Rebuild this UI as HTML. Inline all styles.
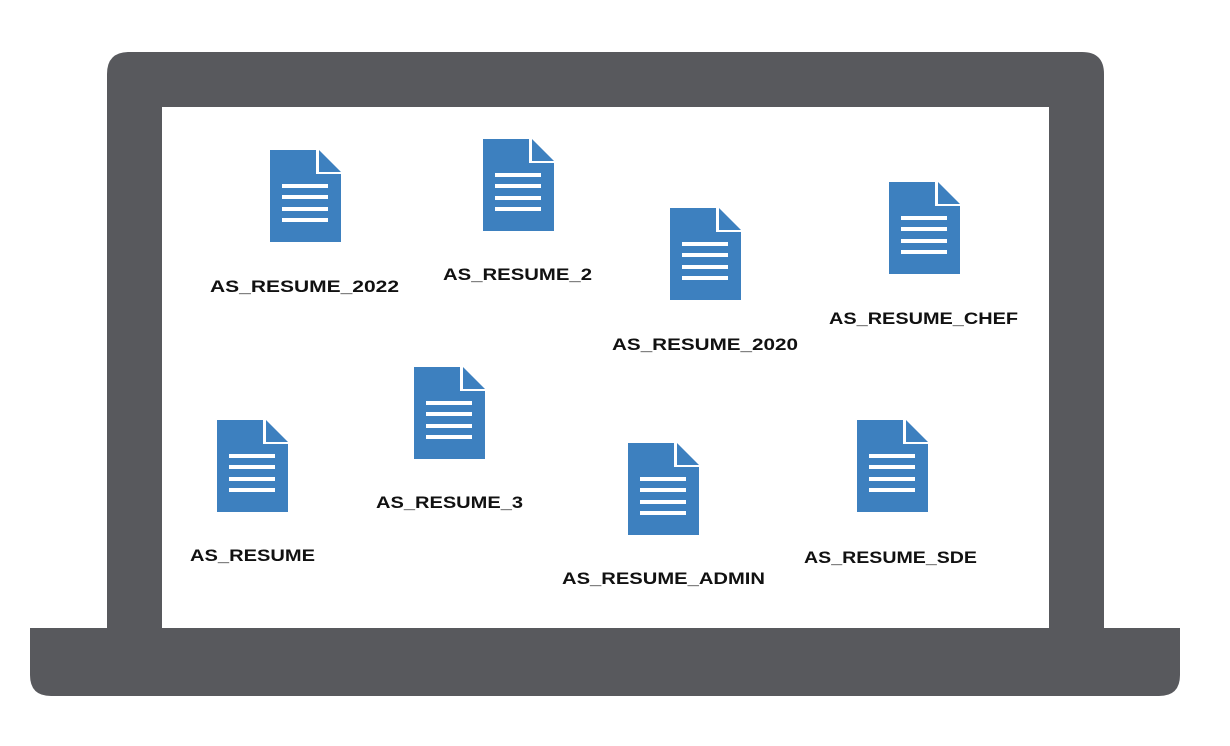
<!DOCTYPE html>
<html><head><meta charset="utf-8"><style>
html,body{margin:0;padding:0;background:#fff;width:1230px;height:746px;overflow:hidden}
svg{display:block}
text{font-family:"Liberation Sans",sans-serif;font-weight:bold;font-size:17px;fill:#111}
</style></head><body>
<svg width="1230" height="746" viewBox="0 0 1230 746">
<defs>
<g id="doc">
<path d="M0 0H46V24H71V92H0Z" fill="#3d80bf"/>
<path d="M49 0L71 22H49Z" fill="#3d80bf"/>
<rect x="12" y="34" width="46" height="4" fill="#fff"/>
<rect x="12" y="45" width="46" height="4" fill="#fff"/>
<rect x="12" y="57" width="46" height="4" fill="#fff"/>
<rect x="12" y="68" width="46" height="4" fill="#fff"/>
</g>
</defs>
<path d="M107 628V74Q107 52 129 52H1082Q1104 52 1104 74V628Z" fill="#58595d"/>
<path d="M30 628H1180V675Q1180 696 1159 696H51Q30 696 30 675Z" fill="#58595d"/>
<rect x="162" y="107" width="887" height="521" fill="#fff"/>
<use href="#doc" x="270" y="150"/>
<use href="#doc" x="483" y="139"/>
<use href="#doc" x="670" y="208"/>
<use href="#doc" x="889" y="182"/>
<use href="#doc" x="217" y="420"/>
<use href="#doc" x="414" y="367"/>
<use href="#doc" x="628" y="443"/>
<use href="#doc" x="857" y="420"/>
<text x="210" y="292" textLength="189" lengthAdjust="spacingAndGlyphs">AS_RESUME_2022</text>
<text x="443" y="280" textLength="149" lengthAdjust="spacingAndGlyphs">AS_RESUME_2</text>
<text x="612" y="350" textLength="186" lengthAdjust="spacingAndGlyphs">AS_RESUME_2020</text>
<text x="829" y="324" textLength="189" lengthAdjust="spacingAndGlyphs">AS_RESUME_CHEF</text>
<text x="190" y="561" textLength="125" lengthAdjust="spacingAndGlyphs">AS_RESUME</text>
<text x="376" y="508" textLength="147" lengthAdjust="spacingAndGlyphs">AS_RESUME_3</text>
<text x="562" y="584" textLength="203" lengthAdjust="spacingAndGlyphs">AS_RESUME_ADMIN</text>
<text x="804" y="563" textLength="173" lengthAdjust="spacingAndGlyphs">AS_RESUME_SDE</text>
</svg>
</body></html>
